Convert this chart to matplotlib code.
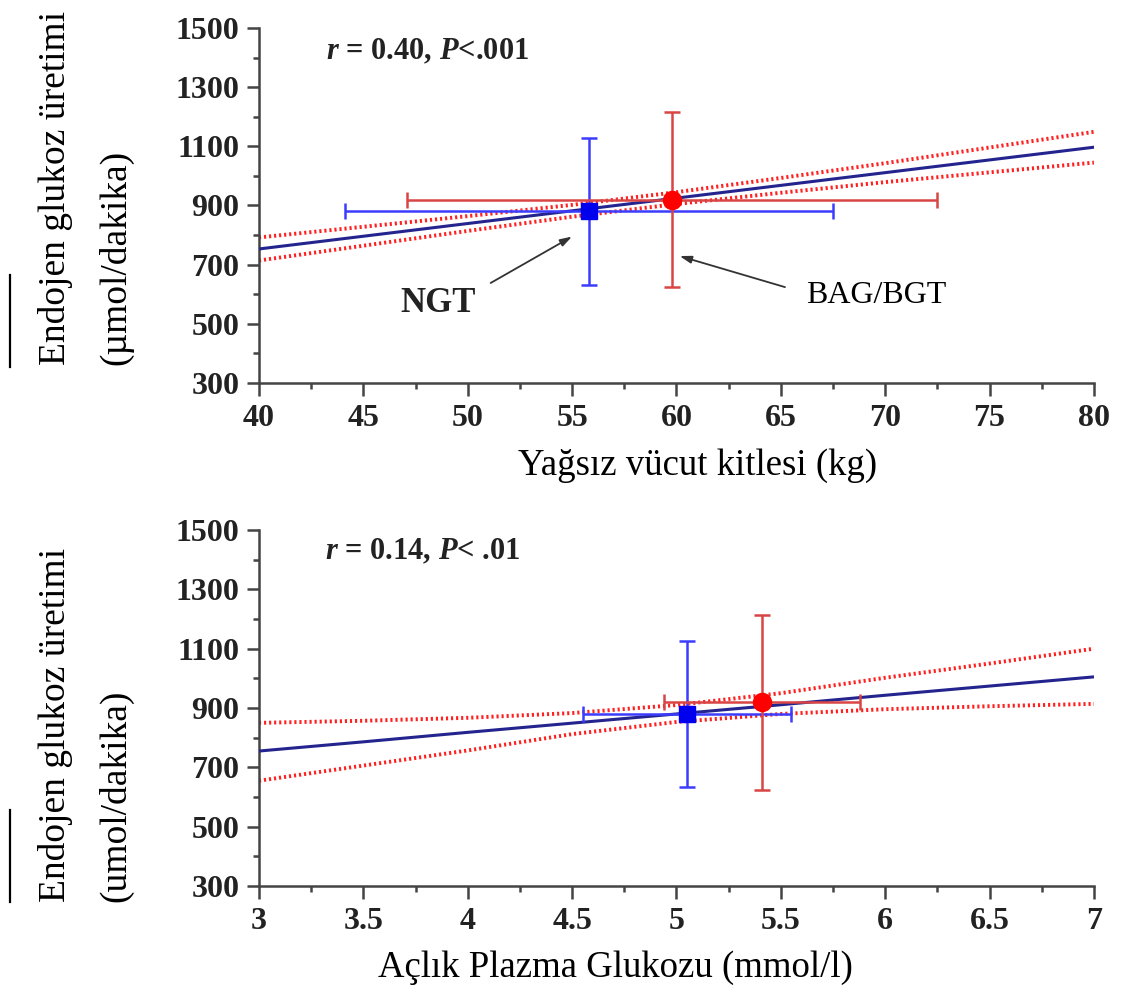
import matplotlib
matplotlib.use("Agg")
import matplotlib.pyplot as plt
from matplotlib.lines import Line2D
from matplotlib.ticker import MultipleLocator

plt.rcParams['font.family'] = ['Liberation Serif', 'DejaVu Serif']
plt.rcParams['mathtext.fontset'] = 'custom'
plt.rcParams['mathtext.it'] = 'Liberation Serif:italic:bold'
plt.rcParams['mathtext.rm'] = 'Liberation Serif:bold'

# --- panel 1: lean body mass ---
lbm_x = [40, 45, 50, 55, 60, 65, 70, 75, 80]
lbm_fit = [753, 796, 839, 882, 925, 968, 1011, 1054, 1097]
lbm_ci_hi = [792, 828, 864, 902, 945, 993, 1043, 1096, 1149]
lbm_ci_lo = [714, 764, 814, 862, 905, 943, 979, 1012, 1045]
lbm_ngt = (55.8, 880, 11.7, 248)      # x, y, xerr, yerr
lbm_bag = (59.8, 920, 12.7, 296)

# --- panel 2: fasting plasma glucose ---
fpg_x = [3, 3.5, 4, 4.5, 5, 5.5, 6, 6.5, 7]
fpg_fit = [755, 786, 818, 849, 880, 911, 943, 974, 1005]
fpg_ci_hi = [850, 857, 867, 883, 910, 950, 1002, 1050, 1100]
fpg_ci_lo = [655, 706, 757, 812, 853, 880, 896, 906, 914]
fpg_ngt = (5.05, 880, 0.50, 246)
fpg_bag = (5.41, 920, 0.47, 295)

fig = plt.figure(figsize=(11.23, 9.97), dpi=100)
ax1 = fig.add_axes([0.2306, 0.6159, 0.7435, 0.356])
ax2 = fig.add_axes([0.2306, 0.1113, 0.7435, 0.3571])

def draw(ax, xs, fit, hi, lo, ngt, bag, xlim, xmaj, xmin, xticklabels):
    ax.plot(xs, hi, color='#ff2020', lw=2.8, ls=(0, (0.55, 0.75)), zorder=2)
    ax.plot(xs, lo, color='#ff2020', lw=2.8, ls=(0, (0.55, 0.75)), zorder=2)
    ax.plot(xs, fit, color='#24248f', lw=2.2, zorder=3)
    ax.errorbar(ngt[0], ngt[1], xerr=ngt[2], yerr=ngt[3], fmt='s', color='#3c3cff',
                mfc='#0000ee', mec='#0000ee', ms=12, elinewidth=1.8, capsize=6,
                capthick=1.8, zorder=4)
    ax.errorbar(bag[0], bag[1], xerr=bag[2], yerr=bag[3], fmt='o', color='#d94545',
                mfc='#ff0000', mec='#ff0000', ms=13, elinewidth=1.8, capsize=6,
                capthick=1.8, zorder=4)
    ax.set_xlim(*xlim)
    ax.set_ylim(300, 1500)
    ax.set_xticks(xmaj)
    ax.set_xticklabels(xticklabels)
    ax.xaxis.set_minor_locator(MultipleLocator(xmin))
    ax.set_yticks(range(300, 1501, 200))
    ax.yaxis.set_minor_locator(MultipleLocator(100))
    for s in ['top', 'right']:
        ax.spines[s].set_visible(False)
    for s in ['left', 'bottom']:
        ax.spines[s].set_color('#444444')
        ax.spines[s].set_linewidth(1.8)
    ax.tick_params(which='major', length=9, width=1.8, color='#444444')
    ax.tick_params(which='minor', length=4.5, width=1.8, color='#444444')
    ax.tick_params(axis='y', pad=5)
    ax.tick_params(axis='x', pad=6)
    for lab in ax.get_xticklabels() + ax.get_yticklabels():
        lab.set_fontsize(23)
        lab.set_fontweight('bold')
        lab.set_color('#222222')

draw(ax1, lbm_x, lbm_fit, lbm_ci_hi, lbm_ci_lo, lbm_ngt, lbm_bag, (40, 80),
     range(40, 81, 5), 2.5, [str(v) for v in range(40, 81, 5)])
draw(ax2, fpg_x, fpg_fit, fpg_ci_hi, fpg_ci_lo, fpg_ngt, fpg_bag, (3, 7),
     fpg_x, 0.25, ['3', '3.5', '4', '4.5', '5', '5.5', '6', '6.5', '7'])

# statistics text
ax1.text(43.2, 1419, r'$r$ = 0.40, $P$<.001', fontsize=22, fontweight='bold',
         va='center', ha='left', color='#222222')
ax2.text(3.315, 1426, r'$r$ = 0.14, $P$< .01', fontsize=22, fontweight='bold',
         va='center', ha='left', color='#222222')

# group labels with arrows
ax1.annotate('', xy=(55.0, 795), xytext=(51.1, 638),
             arrowprops=dict(arrowstyle='-|>,head_length=0.7,head_width=0.22',
                             color='#333333', lw=1.3, shrinkA=0, shrinkB=0))
ax1.text(48.6, 570, 'NGT', fontsize=25, fontweight='bold', ha='center', va='center',
         color='#222222')
ax1.annotate('', xy=(60.15, 729), xytext=(65.2, 624),
             arrowprops=dict(arrowstyle='-|>,head_length=0.7,head_width=0.22',
                             color='#333333', lw=1.3, shrinkA=0, shrinkB=0))
ax1.text(69.55, 597, 'BAG/BGT', fontsize=23, ha='center', va='center', color='black')

# axis labels
fig.text(0.6215, 0.5326, 'Yağsız vücut kitlesi (kg)', fontsize=26.5, ha='center', va='center')
fig.text(0.5476, 0.029, 'Açlık Plazma Glukozu (mmol/l)', fontsize=26.5, ha='center', va='center')

fig.text(0.049, 0.634, 'Endojen glukoz üretimi', fontsize=27, rotation=90,
         ha='center', va='bottom')
fig.text(0.103, 0.634, '(µmol/dakika)', fontsize=27, rotation=90, ha='center', va='bottom')
fig.text(0.049, 0.0953, 'Endojen glukoz üretimi', fontsize=27, rotation=90,
         ha='center', va='bottom')
fig.text(0.103, 0.0953, '(umol/dakika)', fontsize=27, rotation=90, ha='center', va='bottom')

fig.add_artist(Line2D([0.0089, 0.0089], [0.632, 0.724], color='black', lw=1.6))
fig.add_artist(Line2D([0.0089, 0.0089], [0.0953, 0.1876], color='black', lw=1.6))

fig.savefig('out.png', dpi=100)
